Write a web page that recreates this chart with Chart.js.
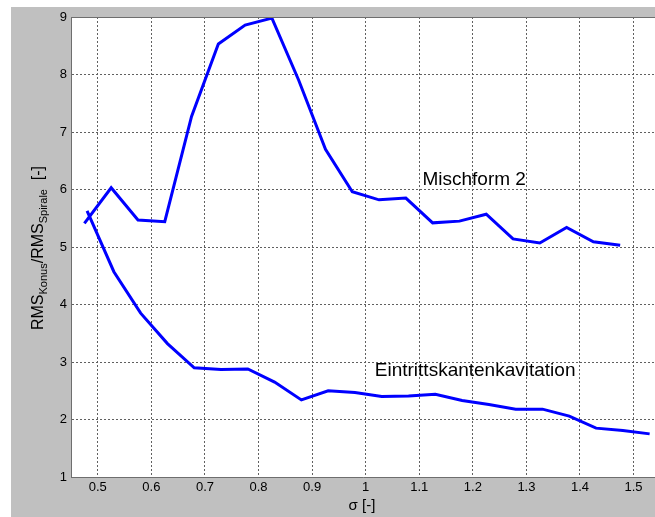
<!DOCTYPE html>
<html>
<head>
<meta charset="utf-8">
<script src="https://cdn.jsdelivr.net/npm/chart.js@4/dist/chart.umd.min.js"></script>
<style>
    html, body { margin: 0; padding: 0; background: #fff; }
    canvas { display: block; }
</style>
</head>
<body>
<canvas id="chart-rms" width="655" height="517"></canvas>
<script>
// sigma values and RMS ratio for both cavitation forms
const sigmaMisch = [0.475, 0.525, 0.575, 0.625, 0.675, 0.725, 0.775, 0.825, 0.875, 0.925, 0.975,
    1.025, 1.075, 1.125, 1.175, 1.225, 1.275, 1.325, 1.375, 1.425, 1.475];
const rmsMisch = [5.41, 6.03, 5.47, 5.44, 7.27, 8.53, 8.86, 8.98, 7.90, 6.70, 5.96,
    5.82, 5.85, 5.42, 5.45, 5.57, 5.14, 5.07, 5.34, 5.09, 5.03];

const sigmaEin = [0.48, 0.53, 0.58, 0.63, 0.68, 0.73, 0.78, 0.83, 0.88, 0.93, 0.98,
    1.03, 1.08, 1.13, 1.18, 1.23, 1.28, 1.33, 1.38, 1.43, 1.48, 1.53];
const rmsEin = [5.63, 4.57, 3.85, 3.32, 2.90, 2.87, 2.88, 2.65, 2.34, 2.50, 2.47,
    2.40, 2.41, 2.44, 2.33, 2.26, 2.18, 2.18, 2.06, 1.85, 1.81, 1.75];

const xTicks = [0.5, 0.6, 0.7, 0.8, 0.9, 1, 1.1, 1.2, 1.3, 1.4, 1.5];
const yTicks = [1, 2, 3, 4, 5, 6, 7, 8, 9];

const labelMisch = { text: 'Mischform 2', x: 1.106, y: 6.08 };
const labelEin = { text: 'Eintrittskantenkavitation', x: 1.017, y: 2.76 };

const FONT = '"Liberation Sans", Arial, sans-serif';

function toPoints(xs, ys) {
    return xs.map((x, i) => ({ x: x, y: ys[i] }));
}

// grey figure background, white axes area, box line and texts
const figurePlugin = {
    id: 'figure',
    beforeDraw(chart) {
        const ctx = chart.ctx;
        const a = chart.chartArea;
        ctx.save();
        ctx.fillStyle = '#fff';
        ctx.fillRect(0, 0, chart.width, chart.height);
        ctx.fillStyle = '#c0c0c0';
        ctx.fillRect(11, 7, chart.width - 11, chart.height - 7);
        ctx.fillStyle = '#fff';
        ctx.fillRect(a.left, a.top, a.right - a.left, a.bottom - a.top);
        ctx.restore();
    },
    afterDraw(chart) {
        const ctx = chart.ctx;
        const a = chart.chartArea;
        const xs = chart.scales.x;
        const ys = chart.scales.y;
        ctx.save();

        ctx.strokeStyle = '#6e6e6e';
        ctx.lineWidth = 1;
        ctx.beginPath();
        ctx.moveTo(a.left, a.top + 0.5);
        ctx.lineTo(a.right, a.top + 0.5);
        ctx.stroke();

        ctx.fillStyle = '#000';
        ctx.font = '19px ' + FONT;
        ctx.textBaseline = 'alphabetic';
        ctx.textAlign = 'left';
        [labelMisch, labelEin].forEach(l => {
            ctx.fillText(l.text, xs.getPixelForValue(l.x), ys.getPixelForValue(l.y));
        });

        // x axis title
        ctx.font = '15px ' + FONT;
        ctx.textAlign = 'center';
        ctx.textBaseline = 'middle';
        ctx.fillText('σ [-]', 362, 506);

        // y axis title with subscripts, rotated
        ctx.translate(43, 248);
        ctx.rotate(-Math.PI / 2);
        const parts = [
            { t: 'RMS', sub: false },
            { t: 'Konus', sub: true },
            { t: '/RMS', sub: false },
            { t: 'Spirale', sub: true },
            { t: '  [-]', sub: false }
        ];
        let total = 0;
        parts.forEach(p => {
            ctx.font = (p.sub ? '11px ' : '16px ') + FONT;
            p.w = ctx.measureText(p.t).width;
            total += p.w;
        });
        let cx = -total / 2;
        ctx.textAlign = 'left';
        ctx.textBaseline = 'alphabetic';
        parts.forEach(p => {
            ctx.font = (p.sub ? '11px ' : '16px ') + FONT;
            ctx.fillText(p.t, cx, p.sub ? 4 : 0);
            cx += p.w;
        });
        ctx.restore();
    }
};

new Chart(document.getElementById('chart-rms'), {
    type: 'scatter',
    data: {
        datasets: [{
            label: labelMisch.text,
            data: toPoints(sigmaMisch, rmsMisch),
            showLine: true,
            borderColor: '#0000ff',
            borderWidth: 3,
            pointRadius: 0,
            tension: 0
        }, {
            label: labelEin.text,
            data: toPoints(sigmaEin, rmsEin),
            showLine: true,
            borderColor: '#0000ff',
            borderWidth: 3,
            pointRadius: 0,
            tension: 0
        }]
    },
    options: {
        responsive: false,
        animation: false,
        layout: { padding: { top: 17, right: 0, bottom: 0, left: 0 } },
        plugins: {
            legend: { display: false },
            tooltip: { enabled: false }
        },
        scales: {
            x: {
                type: 'linear',
                min: 0.45,
                max: 1.54,
                afterBuildTicks: scale => { scale.ticks = xTicks.map(v => ({ value: v })); },
                afterFit: scale => { scale.height = 40; },
                ticks: {
                    padding: 3,
                    color: '#000',
                    font: { family: FONT, size: 13 },
                    callback: v => String(Math.round(v * 10) / 10)
                },
                grid: { color: '#606060', lineWidth: 1, drawTicks: false },
                border: { display: true, color: '#6e6e6e', width: 1, dash: [2, 2] }
            },
            y: {
                type: 'linear',
                min: 1,
                max: 9,
                afterBuildTicks: scale => { scale.ticks = yTicks.map(v => ({ value: v })); },
                afterFit: scale => { scale.width = 71; },
                ticks: {
                    padding: 4,
                    color: '#000',
                    font: { family: FONT, size: 13 }
                },
                grid: { color: '#606060', lineWidth: 1, drawTicks: false },
                border: { display: true, color: '#6e6e6e', width: 1, dash: [2, 2] }
            }
        }
    },
    plugins: [figurePlugin]
});
</script>
</body>
</html>
